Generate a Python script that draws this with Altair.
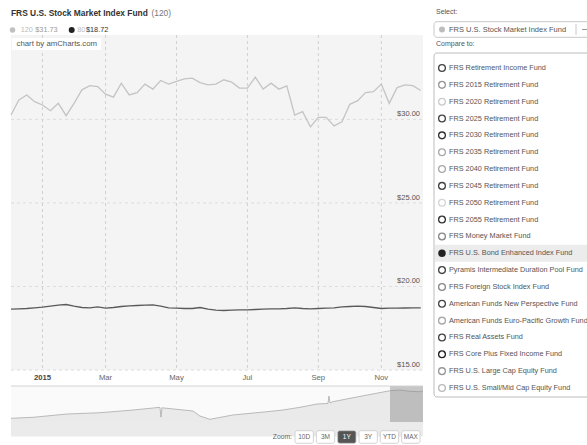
import altair as alt
import pandas as pd

FONT = "Liberation Sans"

# ---------------- data ----------------
week_dates = pd.date_range("2014-12-08", periods=53, freq="7D").strftime("%Y-%m-%d").tolist()
stock_120 = [30.26, 31.16, 31.46, 31.06, 30.86, 30.52, 30.96, 30.22, 30.96, 31.77,
             32.02, 31.96, 31.51, 31.33, 32.17, 31.46, 31.60, 32.11, 31.81, 32.33,
             32.11, 32.27, 32.43, 32.47, 32.20, 32.07, 32.11, 32.37, 32.23, 31.87,
             31.87, 32.53, 31.81, 32.17, 31.81, 32.01, 30.26, 30.46, 29.55, 30.12,
             30.12, 29.61, 29.86, 30.90, 31.12, 31.60, 31.66, 32.11, 30.96, 31.90,
             32.07, 32.02, 31.73]
bond_80 = [18.64, 18.66, 18.68, 18.72, 18.76, 18.82, 18.88, 18.92, 18.82, 18.74,
           18.72, 18.78, 18.70, 18.74, 18.80, 18.84, 18.86, 18.88, 18.90, 18.82,
           18.72, 18.70, 18.68, 18.68, 18.74, 18.64, 18.58, 18.56, 18.58, 18.60,
           18.60, 18.62, 18.64, 18.66, 18.66, 18.68, 18.72, 18.68, 18.66, 18.68,
           18.70, 18.72, 18.78, 18.80, 18.82, 18.80, 18.74, 18.68, 18.70, 18.70,
           18.71, 18.72, 18.72]
series_names = ["120", "80"]

tick_dates = ["2015-01-05", "2015-03-02", "2015-05-04", "2015-07-06", "2015-09-07", "2015-11-02"]
tick_labels = ["2015", "Mar", "May", "Jul", "Sep", "Nov"]
y_ticks = [15, 20, 25, 30]
y_tick_labels = ["$15.00", "$20.00", "$25.00", "$30.00"]

nav_dates = ["2003-06-06", "2004-02-05", "2005-02-16", "2006-02-17", "2007-02-18",
             "2007-12-14", "2007-12-25", "2008-01-05", "2008-03-01", "2008-12-14",
             "2009-03-01", "2009-06-20", "2010-03-01", "2011-03-14", "2011-09-07",
             "2012-03-14", "2012-09-19", "2013-01-19", "2013-01-30", "2013-02-10",
             "2013-03-15", "2013-09-20", "2014-03-27", "2014-12-07", "2015-03-28",
             "2015-07-17", "2015-11-05", "2015-12-08"]
nav_values = [12.68, 13.37, 15.67, 16.57, 18.45, 20.33, 13.5, 20.0, 19.64, 17.76,
              14.28, 11.98, 14.97, 17.27, 18.45, 20.33, 22.63, 23.0, 28.2, 23.5,
              24.23, 26.60, 28.89, 31.88, 32.37, 31.5, 31.19, 31.7]
selected_range = ["2014-12-08", "2015-12-09"]

title_main = "FRS U.S. Stock Market Index Fund"
title_id = "(120)"
legend_items = [("120", "$31.73"), ("80", "$18.72")]

select_label = "Select:"
selected_main = "FRS U.S. Stock Market Index Fund"
compare_label = "Compare to:"
funds = ["FRS Retirement Income Fund", "FRS 2015 Retirement Fund", "FRS 2020 Retirement Fund",
         "FRS 2025 Retirement Fund", "FRS 2030 Retirement Fund", "FRS 2035 Retirement Fund",
         "FRS 2040 Retirement Fund", "FRS 2045 Retirement Fund", "FRS 2050 Retirement Fund",
         "FRS 2055 Retirement Fund", "FRS Money Market Fund", "FRS U.S. Bond Enhanced Index Fund",
         "Pyramis Intermediate Duration Pool Fund", "FRS Foreign Stock Index Fund",
         "American Funds New Perspective Fund", "American Funds Euro-Pacific Growth Fund",
         "FRS Real Assets Fund", "FRS Core Plus Fixed Income Fund",
         "FRS U.S. Large Cap Equity Fund", "FRS U.S. Small/Mid Cap Equity Fund"]
selected_fund = "FRS U.S. Bond Enhanced Index Fund"
zoom_buttons = ["10D", "3M", "1Y", "3Y", "YTD", "MAX"]
active_button = "1Y"
credit = "chart by amCharts.com"

# ---------------- styles ----------------
series_colors = ["#c4c4c4", "#5a5a5a"]
fund_circle_colors = ["#444", "#999", "#ccc", "#444", "#333", "#aaa", "#aaa", "#444", "#d5d5d5", "#333",
                      "#888", "#222", "#444", "#888", "#444", "#aaa", "#444", "#222", "#999", "#bbb"]
btn_fills = ["#555555" if b == active_button else "#ffffff" for b in zoom_buttons]
btn_text_colors = ["#ffffff" if b == active_button else "#666666" for b in zoom_buttons]

W, H = 412, 335
one = pd.DataFrame({"k": [0]})

# ---------------- main chart ----------------
lines_df = pd.DataFrame({
    "date": week_dates * 2,
    "value": stock_120 + bond_80,
    "series": [series_names[0]] * len(week_dates) + [series_names[1]] * len(week_dates),
})
ticks_df = pd.DataFrame({"date": tick_dates, "label": tick_labels,
                         "year": [l.isdigit() for l in tick_labels]})
yt_df = pd.DataFrame({"v": y_ticks, "label": y_tick_labels})

xs_main = alt.Scale(type="utc", domain=[alt.DateTime(year=2014, month=12, date=8, utc=True),
                                        alt.DateTime(year=2015, month=12, date=9, utc=True)])
ys_main = alt.Scale(domain=[15, 35.05], nice=False, zero=False)
X = alt.X("date:T", scale=xs_main, axis=None)

vgrid = alt.Chart(ticks_df).mark_rule(strokeDash=[3, 3], color="#d0d0d0", strokeWidth=1).encode(
    x=X, y=alt.value(0), y2=alt.value(H))
hgrid = alt.Chart(yt_df).mark_rule(strokeDash=[3, 3], color="#dcdcdc", strokeWidth=1).encode(
    y=alt.Y("v:Q", scale=ys_main, axis=None), x=alt.value(0), x2=alt.value(W))
lines = alt.Chart(lines_df).mark_line(strokeWidth=1.3).encode(
    x=X, y=alt.Y("value:Q", scale=ys_main, axis=None),
    color=alt.Color("series:N", scale=alt.Scale(domain=series_names, range=series_colors), legend=None))
ylabels = alt.Chart(yt_df).mark_text(align="right", baseline="bottom", dy=-1, fontSize=7.5,
                                     color="#555", font=FONT).encode(
    y=alt.Y("v:Q", scale=ys_main, axis=None), x=alt.value(409), text="label:N")
xl_month = alt.Chart(ticks_df).transform_filter("!datum.year").mark_text(
    baseline="middle", fontSize=7.7, color="#666", font=FONT).encode(
    x=X, y=alt.value(342.7), text="label:N")
xl_year = alt.Chart(ticks_df).transform_filter("datum.year").mark_text(
    baseline="middle", fontSize=7.7, color="#444", fontWeight="bold", font=FONT).encode(
    x=X, y=alt.value(342.7), text="label:N")
main = alt.layer(vgrid, hgrid, lines, ylabels, xl_month, xl_year)

credit_layer = alt.layer(
    alt.Chart(one).mark_rect(fill="white").encode(x=alt.value(1), x2=alt.value(90), y=alt.value(3), y2=alt.value(15)),
    alt.Chart(one).mark_text(text=credit, align="left", baseline="middle", fontSize=7.8, color="#555",
                             font=FONT).encode(x=alt.value(5.5), y=alt.value(9)),
)

# ---------------- navigator ----------------
nav_df = pd.DataFrame({"date": nav_dates, "value": nav_values})
sel_df = pd.DataFrame({"start": [selected_range[0]], "end": [selected_range[1]]})
xs_nav = alt.Scale(type="utc", domain=[alt.DateTime(year=2003, month=6, date=6, utc=True),
                                       alt.DateTime(year=2015, month=12, date=9, utc=True)])
ys_nav = alt.Scale(domain=[10.1, 35.2], range=[387, 351], nice=False, zero=False)
nav = alt.layer(
    alt.Chart(one).mark_rect(fill="#fafafa").encode(x=alt.value(0), x2=alt.value(W), y=alt.value(351), y2=alt.value(387)),
    alt.Chart(nav_df).mark_area(color="#e2e2e2", line={"color": "#ababab", "strokeWidth": 0.8}).encode(
        x=alt.X("date:T", scale=xs_nav, axis=None),
        y=alt.Y("value:Q", scale=ys_nav, axis=None), y2=alt.value(387)),
    alt.Chart(sel_df).mark_rect(fill="#8a8a8a", opacity=0.45).encode(
        x=alt.X("start:T", scale=xs_nav, axis=None), x2="end:T", y=alt.value(351), y2=alt.value(387)),
    alt.Chart(one).mark_rule(color="#d2d2d2", strokeWidth=1).encode(x=alt.value(0), x2=alt.value(W), y=alt.value(351)),
)

# ---------------- header ----------------
def txt(text, x, y, size=7.0, color="#555", weight="normal", align="left"):
    return alt.Chart(one).mark_text(text=text, align=align, baseline="middle", fontSize=size,
                                    color=color, fontWeight=weight, font=FONT).encode(
        x=alt.value(x), y=alt.value(y))

def dot(x, y, color, size):
    return alt.Chart(one).mark_point(shape="circle", filled=True, color=color, size=size, opacity=1).encode(
        x=alt.value(x), y=alt.value(y))

header = alt.layer(
    txt(title_main, 0, -22, 8.4, "#333", "bold"),
    txt(title_id, 140.5, -22, 8.4, "#777"),
    dot(1.5, -5, "#c0c0c0", 30),
    txt(legend_items[0][0], 9.7, -5, 7.3, "#bbbbbb"),
    txt(legend_items[0][1], 24.3, -5, 7.3, "#9a9a9a"),
    dot(60.7, -5, "#222222", 36),
    txt(legend_items[1][0], 66.3, -5, 7.3, "#bbbbbb"),
    txt(legend_items[1][1], 75, -5, 7.3, "#333333"),
    txt(select_label, 425, -23.3, 7, "#555"),
    alt.Chart(one).mark_rect(fill="white", stroke="#c8c8c8", strokeWidth=1, cornerRadius=3).encode(
        x=alt.value(423), x2=alt.value(600), y=alt.value(-13.3), y2=alt.value(2.3)),
    dot(431, -5.5, "#bdbdbd", 36),
    txt(selected_main, 438, -5.5, 7.5, "#555"),
    alt.Chart(one).mark_rule(color="#c8c8c8").encode(x=alt.value(565), y=alt.value(-11), y2=alt.value(0)),
    alt.Chart(one).mark_rule(color="#999").encode(x=alt.value(571), x2=alt.value(577), y=alt.value(-5.5)),
    txt(compare_label, 425, 9.3, 7, "#555"),
)

# ---------------- compare panel ----------------
panel_df = pd.DataFrame({"fund": funds})
ys_panel = alt.Scale(type="band", domain=funds, range=[24.58, 361.42], paddingInner=0, paddingOuter=0)
YP = alt.Y("fund:N", scale=ys_panel, axis=None)
panel = alt.layer(
    alt.Chart(one).mark_rect(fill="white", stroke="#bdbdbd", strokeWidth=1, cornerRadius=3).encode(
        x=alt.value(423), x2=alt.value(600), y=alt.value(18), y2=alt.value(362)),
    alt.Chart(panel_df).transform_filter(alt.datum.fund == selected_fund).mark_rect(fill="#ececec").encode(
        y=YP, x=alt.value(424), x2=alt.value(600)),
    alt.Chart(panel_df).transform_filter(alt.datum.fund != selected_fund).mark_point(
        shape="circle", filled=False, size=46, strokeWidth=1.3, opacity=1).encode(
        y=YP, x=alt.value(431),
        color=alt.Color("fund:N", scale=alt.Scale(domain=funds, range=fund_circle_colors), legend=None)),
    alt.Chart(panel_df).transform_filter(alt.datum.fund == selected_fund).mark_point(
        shape="circle", filled=True, size=56, color="#222", opacity=1).encode(y=YP, x=alt.value(431)),
    alt.Chart(panel_df).mark_text(align="left", baseline="middle", fontSize=7.3, color="#555", font=FONT).encode(
        y=YP, x=alt.value(438), text="fund:N"),
)

# ---------------- zoom buttons ----------------
btn_df = pd.DataFrame({"b": zoom_buttons})
xs_btn = alt.Scale(type="band", domain=zoom_buttons, range=[284, 409], paddingInner=0.14, paddingOuter=0)
XB = alt.X("b:N", scale=xs_btn, axis=None)
buttons = alt.layer(
    txt("Zoom:", 281, 402, 6.8, "#666", align="right"),
    alt.Chart(btn_df).mark_rect(cornerRadius=2, stroke="#c8c8c8", strokeWidth=0.8).encode(
        x=XB, y=alt.value(395.7), y2=alt.value(408.3),
        fill=alt.Fill("b:N", scale=alt.Scale(domain=zoom_buttons, range=btn_fills), legend=None)),
    alt.Chart(btn_df).mark_text(baseline="middle", fontSize=6.5, font=FONT).encode(
        x=XB, y=alt.value(402), text="b:N",
        color=alt.Color("b:N", scale=alt.Scale(domain=zoom_buttons, range=btn_text_colors), legend=None)),
)

chart = alt.layer(main, credit_layer, nav, panel, header, buttons).resolve_scale(
    x="independent", y="independent", color="independent", fill="independent"
).properties(
    width=W, height=H,
    padding={"left": 11, "top": 35, "right": 164, "bottom": 75},
    autosize=alt.AutoSizeParams(type="none"),
).configure_view(fill="#f4f4f4", strokeWidth=0)

chart.save("out.html", embed_options={"renderer": "svg", "actions": False})
